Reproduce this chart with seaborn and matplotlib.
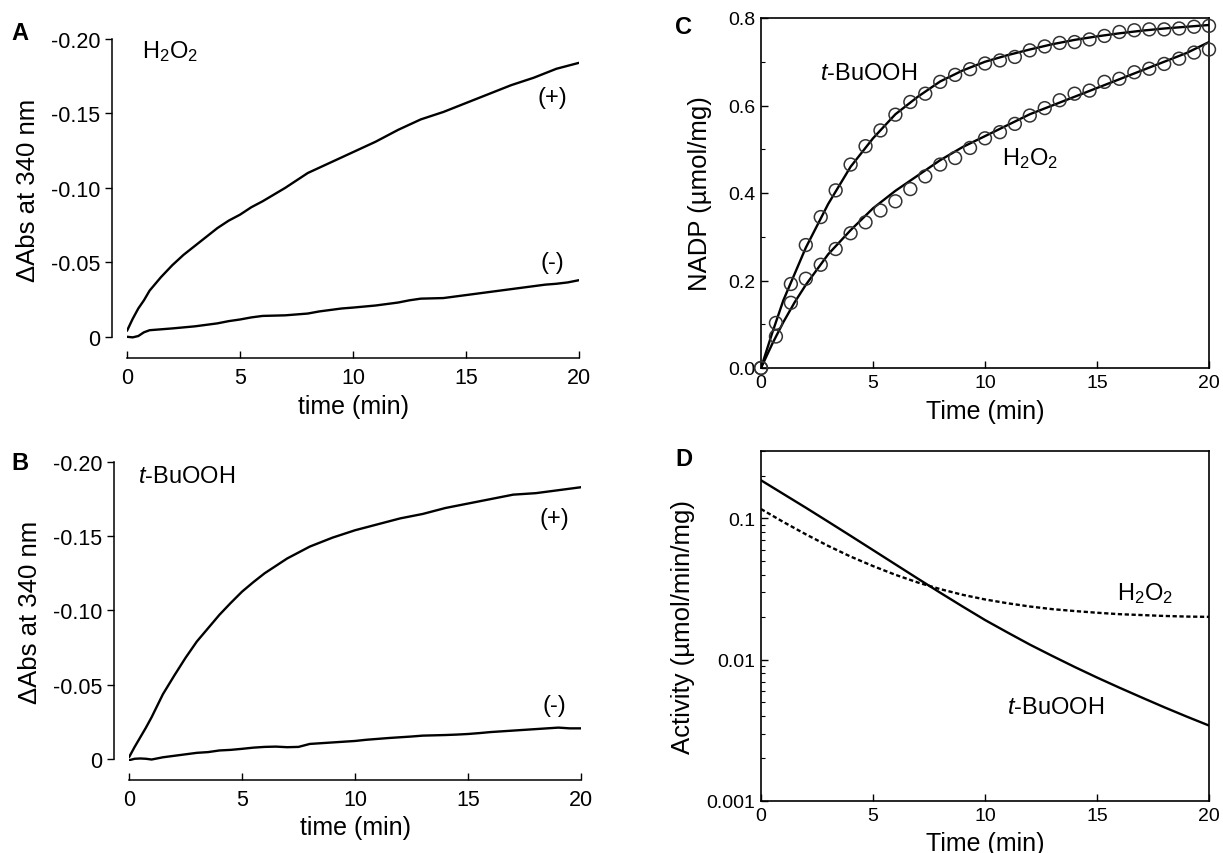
import numpy as np
import pandas as pd
import matplotlib
matplotlib.use("Agg")
import matplotlib.pyplot as plt
from matplotlib.ticker import MultipleLocator, LogLocator, FixedLocator, NullFormatter
import seaborn as sns

# ---- data ----
# panels A and B: raw traces (ΔAbs at 340 nm)
t_trace = [0, 0.25, 0.5, 0.75, 1, 1.5, 2, 2.5, 3, 3.5, 4, 4.5, 5, 5.5, 6, 6.5, 7, 7.5, 8, 8.5,
           9, 9.5, 10, 10.5, 11, 11.5, 12, 12.5, 13, 13.5, 14, 14.5, 15, 15.5, 16, 16.5, 17,
           17.5, 18, 18.5, 19, 19.5, 20]
a_plus = [-0.004, -0.012, -0.019, -0.0245, -0.031, -0.040, -0.048, -0.055, -0.061, -0.067, -0.073,
          -0.078, -0.082, -0.087, -0.091, -0.0955, -0.100, -0.105, -0.110, -0.1135, -0.117,
          -0.1205, -0.124, -0.1275, -0.131, -0.135, -0.139, -0.1425, -0.146, -0.1485, -0.151,
          -0.154, -0.157, -0.160, -0.163, -0.166, -0.169, -0.1715, -0.174, -0.177, -0.180,
          -0.182, -0.184]
a_minus = [0.000, 0.0004, -0.0005, -0.003, -0.0044, -0.005, -0.0056, -0.0063, -0.007, -0.008,
           -0.009, -0.0105, -0.0116, -0.013, -0.014, -0.0142, -0.0144, -0.015, -0.0156, -0.017,
           -0.018, -0.019, -0.0196, -0.0203, -0.021, -0.022, -0.023, -0.0245, -0.0256, -0.0258,
           -0.026, -0.027, -0.028, -0.029, -0.030, -0.031, -0.032, -0.033, -0.034, -0.035,
           -0.0356, -0.0365, -0.038]
b_plus = [-0.001, -0.008, -0.0145, -0.021, -0.028, -0.0435, -0.056, -0.068, -0.079, -0.088, -0.097,
          -0.105, -0.1126, -0.119, -0.125, -0.130, -0.135, -0.139, -0.143, -0.146, -0.149,
          -0.1515, -0.154, -0.156, -0.158, -0.160, -0.162, -0.1635, -0.165, -0.167, -0.169,
          -0.1705, -0.172, -0.1735, -0.175, -0.1765, -0.178, -0.1785, -0.179, -0.180, -0.181,
          -0.182, -0.183]
b_minus = [0.001, 0.000, -0.0002, 0.000, 0.0005, -0.001, -0.002, -0.003, -0.004, -0.0045, -0.0056,
           -0.006, -0.0067, -0.0075, -0.008, -0.0082, -0.0078, -0.008, -0.010, -0.0105, -0.011,
           -0.0115, -0.012, -0.0128, -0.0134, -0.014, -0.0145, -0.015, -0.0156, -0.0158, -0.016,
           -0.0163, -0.0167, -0.0173, -0.018, -0.0185, -0.019, -0.0195, -0.020, -0.0205, -0.021,
           -0.0205, -0.0205]

# panel C: measured NADP (circles), every 40 s
t_points = [i * 2 / 3 for i in range(31)]
c_tbu_pts = [0.0, 0.103, 0.192, 0.281, 0.345, 0.406, 0.465, 0.507, 0.543, 0.579, 0.608,
             0.627, 0.654, 0.670, 0.683, 0.696, 0.703, 0.711, 0.726, 0.735, 0.743,
             0.745, 0.751, 0.759, 0.768, 0.772, 0.774, 0.774, 0.776, 0.780, 0.782]
c_h2o2_pts = [0.0, 0.072, 0.149, 0.204, 0.236, 0.272, 0.308, 0.333, 0.360, 0.381, 0.409,
              0.438, 0.465, 0.480, 0.503, 0.525, 0.539, 0.558, 0.577, 0.594, 0.612,
              0.627, 0.634, 0.654, 0.661, 0.676, 0.684, 0.695, 0.707, 0.721, 0.728]
# panel C: fitted curves
t_fit = [0, 0.5, 1, 1.5, 2, 3, 4, 5, 6, 7, 8, 9, 10, 11, 12, 13, 14, 15, 16, 17, 18, 19, 20]
c_tbu_fit = [0.0, 0.080, 0.155, 0.215, 0.275, 0.375, 0.460, 0.525, 0.580, 0.620, 0.655, 0.680,
             0.700, 0.715, 0.728, 0.740, 0.750, 0.758, 0.765, 0.771, 0.776, 0.780, 0.784]
c_h2o2_fit = [0.0, 0.055, 0.105, 0.150, 0.190, 0.260, 0.315, 0.365, 0.405, 0.440, 0.475, 0.505,
              0.530, 0.555, 0.580, 0.600, 0.620, 0.640, 0.660, 0.680, 0.700, 0.720, 0.745]

# panel D: activity (log scale)
t_act = list(range(0, 21))
d_tbu = [0.1862, 0.1489, 0.1191, 0.0948, 0.0753, 0.0597, 0.0473, 0.0375, 0.0298, 0.0238, 0.0191,
         0.0156, 0.0128, 0.01064, 0.00889, 0.00748, 0.00634, 0.00540, 0.00461, 0.00396, 0.00342]
d_h2o2 = [0.1165, 0.0943, 0.0772, 0.0639, 0.0537, 0.0460, 0.0399, 0.0352, 0.0316, 0.0288, 0.0267,
          0.0251, 0.0238, 0.0228, 0.0221, 0.0215, 0.0210, 0.0207, 0.0204, 0.0202, 0.0201]

left_yticks = [-0.20, -0.15, -0.10, -0.05, 0]
left_yticklabels = ["-0.20", "-0.15", "-0.10", "-0.05", "0"]

sns.set_style("ticks")
plt.rcParams['font.family'] = ['Liberation Sans', 'DejaVu Sans']
plt.rcParams['mathtext.fontset'] = 'custom'
plt.rcParams['mathtext.rm'] = 'Liberation Sans'
plt.rcParams['mathtext.it'] = 'Liberation Sans:italic'
plt.rcParams['mathtext.default'] = 'regular'
for key in ['text.color', 'axes.labelcolor', 'xtick.color', 'ytick.color', 'axes.edgecolor']:
    plt.rcParams[key] = 'black'

H2O2 = "H$_2$O$_2$"
TBU = r"$\mathit{t}$-BuOOH"

fig = plt.figure(figsize=(12.23, 8.54), dpi=100)
W, H = 1223, 854


def add_ax(l, r, t, b):
    return fig.add_axes([l / W, 1 - b / H, (r - l) / W, (b - t) / H])


ax_a = add_ax(127, 579, 40, 340)
ax_b = add_ax(129, 581, 463, 762)
ax_c = add_ax(761, 1209, 19, 369)
ax_d = add_ax(761, 1209, 452, 802)

# ---- A and B ----
for ax, plus, minus, name, pos, xpad in [
        (ax_a, a_plus, a_minus, H2O2, ((0.65, -0.192), (18.8, -0.161), (18.8, -0.050)), 4.5),
        (ax_b, b_plus, b_minus, TBU, ((0.4, -0.1906), (18.8, -0.162), (18.8, -0.036)), 3.5)]:
    df = pd.DataFrame({"t": t_trace * 2, "v": plus + minus,
                       "s": ["+"] * len(plus) + ["-"] * len(minus)})
    sns.lineplot(data=df, x="t", y="v", units="s", estimator=None, color="black",
                 lw=1.7, ax=ax, legend=False)
    ax.set_xlim(0, 20)
    ax.set_ylim(0.0015, -0.2)
    ax.set_yticks(left_yticks)
    ax.set_yticklabels(left_yticklabels)
    ax.set_xticks([0, 5, 10, 15, 20])
    ax.tick_params(axis="y", direction="out", length=5, width=1, labelsize=15.5, pad=3)
    ax.tick_params(axis="x", direction="in", length=5, width=1, labelsize=15.5, pad=6)
    ax.set_xlabel("time (min)", fontsize=18, labelpad=xpad)
    ax.set_ylabel("ΔAbs at 340 nm", fontsize=18.5, labelpad=8)
    for sp in ["left", "bottom"]:
        ax.spines[sp].set_linewidth(1.1)
    sns.despine(ax=ax, offset={"left": 11, "bottom": 14}, trim=True)
    ax.text(pos[0][0], pos[0][1], name, fontsize=17, ha="left", va="center")
    ax.text(pos[1][0], pos[1][1], "(+)", fontsize=17, ha="center", va="center")
    ax.text(pos[2][0], pos[2][1], "(-)", fontsize=17, ha="center", va="center")

# ---- C ----
pts = pd.DataFrame({"t": t_points * 2, "v": c_tbu_pts + c_h2o2_pts,
                    "s": ["tbu"] * 31 + ["h2o2"] * 31})
fit = pd.DataFrame({"t": t_fit * 2, "v": c_tbu_fit + c_h2o2_fit,
                    "s": ["tbu"] * len(t_fit) + ["h2o2"] * len(t_fit)})
sns.lineplot(data=fit, x="t", y="v", units="s", estimator=None, color="black", lw=1.7,
             ax=ax_c, legend=False)
sns.scatterplot(data=pts, x="t", y="v", marker="o", s=85, facecolors="none",
                edgecolor="#333333", linewidth=1.1, ax=ax_c, legend=False, clip_on=False,
                zorder=3)
ax_c.set_xlim(0, 20)
ax_c.set_ylim(0, 0.8)
ax_c.set_xticks([0, 5, 10, 15, 20])
ax_c.set_yticks([0.0, 0.2, 0.4, 0.6, 0.8])
ax_c.yaxis.set_minor_locator(MultipleLocator(0.1))
ax_c.set_yticklabels(["0.0", "0.2", "0.4", "0.6", "0.8"])
ax_c.text(2.65, 0.674, TBU, fontsize=17, ha="left", va="center")
ax_c.text(10.77, 0.482, H2O2, fontsize=17, ha="left", va="center")
ax_c.set_xlabel("Time (min)", fontsize=18, labelpad=6)
ax_c.set_ylabel("NADP (µmol/mg)", fontsize=18.5, labelpad=12)

# ---- D ----
act = pd.DataFrame({"t": t_act * 2, "v": d_tbu + d_h2o2,
                    "s": [TBU] * len(t_act) + [H2O2] * len(t_act)})
sns.lineplot(data=act, x="t", y="v", style="s", estimator=None, color="black", lw=1.7,
             dashes={TBU: "", H2O2: (1.8, 1.1)}, ax=ax_d, legend=False)
ax_d.set_yscale("log")
ax_d.set_xlim(0, 20)
ax_d.set_ylim(0.001, 0.3)
ax_d.set_xticks([0, 5, 10, 15, 20])
ax_d.yaxis.set_major_locator(FixedLocator([0.001, 0.01, 0.1]))
ax_d.set_yticklabels(["0.001", "0.01", "0.1"])
ax_d.yaxis.set_minor_locator(LogLocator(base=10, subs=np.arange(2, 10)))
ax_d.yaxis.set_minor_formatter(NullFormatter())
ax_d.text(15.9, 0.0299, H2O2, fontsize=17, ha="left", va="center")
ax_d.text(10.98, 0.00463, TBU, fontsize=17, ha="left", va="center")
ax_d.set_xlabel("Time (min)", fontsize=18, labelpad=5.5)
ax_d.set_ylabel("Activity (µmol/min/mg)", fontsize=18.5, labelpad=8)

for ax in (ax_c, ax_d):
    for sp in ax.spines.values():
        sp.set_linewidth(1.2)
    ax.tick_params(which="major", direction="in", length=5, width=1, labelsize=14, pad=4,
                   top=False, right=False)
    ax.tick_params(which="minor", direction="in", length=3, width=0.8, top=False, right=False)
    ax.tick_params(axis="x", which="minor", bottom=False)

# panel letters
for letter, x, y in [("A", 11, 34), ("B", 11, 464), ("C", 675, 28), ("D", 675, 459)]:
    fig.text(x / W, 1 - y / H, letter, fontsize=17, fontweight="bold", ha="left", va="center")

fig.savefig("out.png", dpi=100)
